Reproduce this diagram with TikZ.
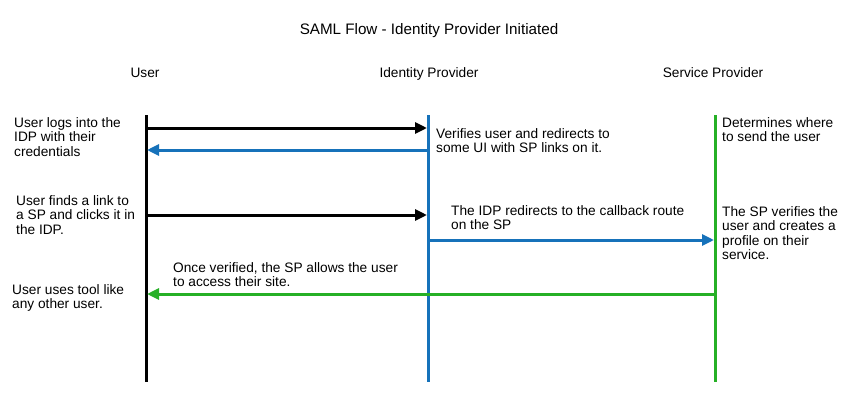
\documentclass[tikz,border=0pt]{standalone}
\usepackage{fontspec}
\setmainfont{Liberation Sans}
\usetikzlibrary{arrows.meta}
\definecolor{idpblue}{RGB}{22,114,186}
\definecolor{spgreen}{RGB}{38,176,38}

\begin{document}
\begin{tikzpicture}
      [x = 1pt, y = -1pt,
      lifeline/.style={line width = 3pt},
      msg/.style={
         line width = 3pt,
         -{Triangle[length = 12pt, width = 11pt]}
      },
      note/.style= {
         anchor = base west,
         inner sep = 0pt,
         align = left,
         font = \fontsize{13.7}{14.6}\selectfont
      },
      head/.style= {
         anchor = base,
         inner sep = 0pt,
         font = \fontsize{13.7}{14.6}\selectfont
      }]

      \useasboundingbox (0, 0) rectangle (858, 407);

      \node[head, font = \fontsize{15.2}{17}\selectfont] (title) at (429, 34) {SAML Flow - Identity Provider Initiated};
      \node[head] (user) at (145, 77) {User};
      \node[head] (idp) at (429, 77) {Identity Provider};
      \node[head] (sp) at (713, 77) {Service Provider};

      % lifelines
      \coordinate (usertop) at (146, 115);
      \coordinate (userbot) at (146, 382);
      \coordinate (idptop) at (428, 115);
      \coordinate (idpbot) at (428, 382);
      \coordinate (sptop) at (715, 115);
      \coordinate (spbot) at (715, 382);
      \draw[lifeline] (usertop) -- (userbot);
      \draw[lifeline, draw = idpblue] (idptop) -- (idpbot);
      \draw[lifeline, draw = spgreen] (sptop) -- (spbot);

      % messages
      \coordinate (u1) at (146, 128);
      \coordinate (i1) at (427, 128);
      \coordinate (i2) at (428, 150);
      \coordinate (u2) at (147, 150);
      \coordinate (u3) at (146, 215);
      \coordinate (i3) at (427, 215);
      \coordinate (i4) at (428, 240);
      \coordinate (s4) at (714, 240);
      \coordinate (s5) at (715, 294);
      \coordinate (u5) at (147, 294);
      \draw[msg] (u1) -- (i1);
      \draw[msg, draw = idpblue, fill = idpblue] (i2) -- (u2);
      \draw[msg] (u3) -- (i3);
      \draw[msg, draw = idpblue, fill = idpblue] (i4) -- (s4);
      \draw[msg, draw = spgreen, fill = spgreen] (s5) -- (u5);

      % notes (anchored at the baseline of their last line)
      \node[note] (login) at (14, 156.2) {User logs into the\\IDP with their\\credentials};
      \node[note] (verify) at (436, 152.6) {Verifies user and redirects to\\some UI with SP links on it.};
      \node[note] (route) at (722, 141.6) {Determines where\\to send the user};
      \node[note] (click) at (16, 234.2) {User finds a link to\\a SP and clicks it in\\the IDP.};
      \node[note] (callback) at (451, 229.6) {The IDP redirects to the callback route\\on the SP};
      \node[note] (profile) at (722, 259.8) {The SP verifies the\\user and creates a\\profile on their\\service.};
      \node[note] (allow) at (173, 286.6) {Once verified, the SP allows the user\\to access their site.};
      \node[note] (use) at (12, 308.6) {User uses tool like\\any other user.};

   \end{tikzpicture}
\end{document}
